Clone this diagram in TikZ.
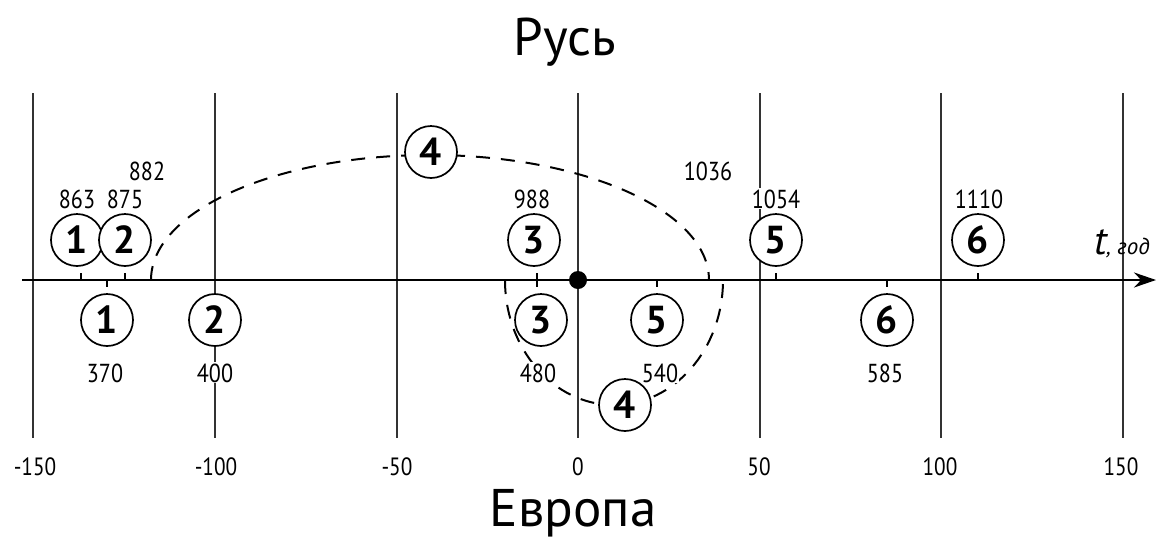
\documentclass[tikz,border=0pt]{standalone}
\usepackage{fontspec}
\setmainfont{PT Sans}
\newfontfamily\numfont[FakeStretch=0.85]{PT Sans}
\usetikzlibrary{arrows.meta}
\begin{document}
\begin{tikzpicture}[x=1pt,y=-1pt,
  gridline/.style={line width=1.3pt, black!80},
  axisline/.style={line width=2.6pt, -{Stealth[length=22pt,width=15pt]}},
  dashcurve/.style={line width=2pt, dash pattern=on 14pt off 11pt},
  evt/.style={circle, draw, line width=1.7pt, fill=white, minimum size=52pt, inner sep=0pt, font=\fontsize{39}{39}\selectfont\bfseries},
  yr/.style={font=\numfont\fontsize{26}{26}\selectfont, inner sep=1pt, fill=white, anchor=base},
  axlab/.style={font=\numfont\fontsize{25}{25}\selectfont, anchor=base},
  tk/.style={line width=1.3pt},
  title/.style={font=\fontsize{53}{53}\selectfont, anchor=base}]
\useasboundingbox (0,0) rectangle (1157,539);
\fill[white] (0,0) rectangle (1157,539);
% grid lines
\foreach \x/\n in {33/a,215/b,397/c,578/d,760/e,941/f,1123/g}
  \draw[gridline] (\x,93) coordinate (top\n) -- (\x,438) coordinate (bot\n);
% axis
\coordinate (axstart) at (22,280);
\coordinate (axend) at (1156,280);
\draw[axisline] (axstart) -- (axend);
% ticks
\foreach \x in {81,125,537,776,978} \draw[tk] (\x,273) -- (\x,280);
\foreach \x in {107,537,657,887} \draw[tk] (\x,280) -- (\x,287);
% origin dot
\fill (578,280) circle[radius=9pt];
% dashed arcs
\coordinate (u882) at (151,280);
\coordinate (e480) at (505,280);
\draw[dashcurve] (u882) arc[start angle=180,end angle=360,x radius=279,y radius=125] coordinate (u1036);
\draw[dashcurve] (e480) arc[start angle=180,end angle=0,x radius=109,y radius=125] coordinate (e540);
% year labels (Rus)
\node[yr] (y863) at (77,208) {863};
\node[yr] (y875) at (125,208) {875};
\node[yr] (y882) at (147,180) {882};
\node[yr] (y988) at (532,208) {988};
\node[yr] (y1036) at (708,180) {1036};
\node[yr] (y1054) at (776,208) {1054};
\node[yr] (y1110) at (979,208) {1110};
% year labels (Europe)
\node[yr] (y370) at (105,382) {370};
\node[yr] (y400) at (215,382) {400};
\node[yr] (y480) at (538,382) {480};
\node[yr] (y540) at (660,382) {540};
\node[yr] (y585) at (885,382) {585};
% event circles (Rus)
\node[evt] (r1) at (77,240) {1};
\node[evt] (r2) at (125,240) {2};
\node[evt] (r3) at (534,240) {3};
\node[evt] (r4) at (431,152) {4};
\node[evt] (r5) at (776,240) {5};
\node[evt] (r6) at (978,240) {6};
% event circles (Europe)
\node[evt] (e1) at (107,320) {1};
\node[evt] (e2) at (215,320) {2};
\node[evt] (e3) at (541,320) {3};
\node[evt] (e4) at (625,405) {4};
\node[evt] (e5) at (657,320) {5};
\node[evt] (e6) at (887,320) {6};
% axis labels
\node[axlab] (lm150) at (35,475) {-150};
\node[axlab] (lm100) at (216,475) {-100};
\node[axlab] (lm50) at (397,475) {-50};
\node[axlab] (l0) at (578,475) {0};
\node[axlab] (l50) at (759,475) {50};
\node[axlab] (l100) at (940,475) {100};
\node[axlab] (l150) at (1121,475) {150};
% axis name
\node[anchor=base west, inner sep=0pt] (tlab) at (1094,254) {{\fontsize{40}{40}\selectfont\itshape t}{\fontsize{23}{23}\selectfont\itshape , год}};
% titles
\node[title] (rus) at (565,55) {Русь};
\node[title] (eur) at (573,526) {Европа};
\end{tikzpicture}
\end{document}
